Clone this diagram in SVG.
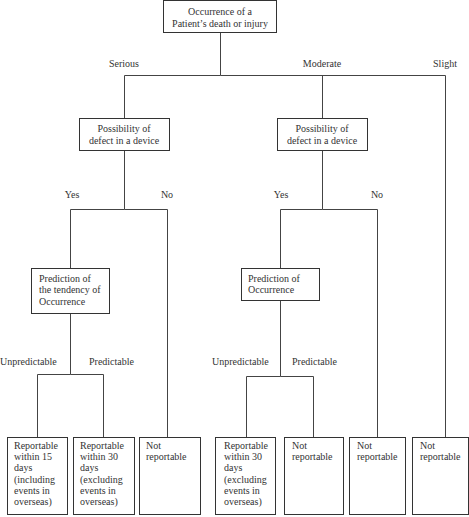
<svg xmlns="http://www.w3.org/2000/svg" width="469" height="517" viewBox="0 0 469 517">
<style>
rect{fill:#fff;stroke:#333;stroke-width:1}
text{font-family:"Liberation Serif","Times New Roman",serif;font-size:10px;fill:#333}
.c{text-anchor:middle}
#connectors path{fill:none;stroke:#444;stroke-width:1}
</style>
<rect x="0" y="0" width="469" height="517" style="stroke:none"/>
<g id="connectors">
<path d="M220.5 32V75.5H124.5V118M322.5 75.5V118M220.5 75.5H445.5V437"/>
<path d="M124.5 150V209.5H70.5V269M124.5 209.5H167.5V437"/>
<path d="M322.5 150V209.5H280.5V269M322.5 209.5H377.5V437"/>
<path d="M70.5 313V374.5H37.5V437M70.5 374.5H103.5V437"/>
<path d="M280.5 301V376.5H246.5V437M280.5 376.5H313.5V437"/>
</g>
<g id="labels">
<text class="c" x="124" y="66.5">Serious</text>
<text class="c" x="322" y="66.5">Moderate</text>
<text class="c" x="445" y="66.5">Slight</text>
<text class="c" x="72" y="197.5">Yes</text>
<text class="c" x="167" y="197.5">No</text>
<text class="c" x="281" y="197.5">Yes</text>
<text class="c" x="377" y="197.5">No</text>
<text x="0" y="364.5">Unpredictable</text>
<text x="89" y="364.5">Predictable</text>
<text x="212" y="364.5">Unpredictable</text>
<text x="292" y="364.5">Predictable</text>
</g>
<g id="root">
<rect x="163.5" y="0.5" width="113" height="32"/>
<text class="c" x="220" y="14.5">Occurrence of a</text>
<text class="c" x="220" y="26.5">Patient’s death or injury</text>
</g>
<g id="possibility1">
<rect x="79.5" y="118.5" width="90" height="32"/>
<text class="c" x="124" y="131.5">Possibility of</text>
<text class="c" x="124" y="143.5">defect in a device</text>
</g>
<g id="possibility2">
<rect x="277.5" y="118.5" width="90" height="32"/>
<text class="c" x="322" y="131.5">Possibility of</text>
<text class="c" x="322" y="143.5">defect in a device</text>
</g>
<g id="prediction1">
<rect x="31.5" y="268.5" width="78" height="45"/>
<text x="39" y="281.5">Prediction of</text>
<text x="39" y="293">the tendency of</text>
<text x="39" y="304.5">Occurrence</text>
</g>
<g id="prediction2">
<rect x="241.5" y="268.5" width="78" height="32"/>
<text x="248" y="281.5">Prediction of</text>
<text x="248" y="293">Occurrence</text>
</g>
<g id="out1">
<rect x="7.5" y="437.5" width="60" height="77"/>
<text x="14" y="449">Reportable</text>
<text x="14" y="460.2">within 15</text>
<text x="14" y="471.4">days</text>
<text x="14" y="482.6">(including</text>
<text x="14" y="493.8">events in</text>
<text x="14" y="505">overseas)</text>
</g>
<g id="out2">
<rect x="73.5" y="437.5" width="61" height="77"/>
<text x="80" y="449">Reportable</text>
<text x="80" y="460.2">within 30</text>
<text x="80" y="471.4">days</text>
<text x="80" y="482.6">(excluding</text>
<text x="80" y="493.8">events in</text>
<text x="80" y="505">overseas)</text>
</g>
<g id="out3">
<rect x="139.5" y="437.5" width="61" height="77"/>
<text x="146" y="449">Not</text>
<text x="146" y="460.2">reportable</text>
</g>
<g id="out4">
<rect x="215.5" y="437.5" width="60" height="77"/>
<text x="224" y="449">Reportable</text>
<text x="224" y="460.2">within 30</text>
<text x="224" y="471.4">days</text>
<text x="224" y="482.6">(excluding</text>
<text x="224" y="493.8">events in</text>
<text x="224" y="505">overseas)</text>
</g>
<g id="out5">
<rect x="284.5" y="437.5" width="59" height="77"/>
<text x="292" y="449">Not</text>
<text x="292" y="460.2">reportable</text>
</g>
<g id="out6">
<rect x="349.5" y="437.5" width="56" height="77"/>
<text x="357" y="449">Not</text>
<text x="357" y="460.2">reportable</text>
</g>
<g id="out7">
<rect x="412.5" y="437.5" width="56" height="77"/>
<text x="420" y="449">Not</text>
<text x="420" y="460.2">reportable</text>
</g>
</svg>
